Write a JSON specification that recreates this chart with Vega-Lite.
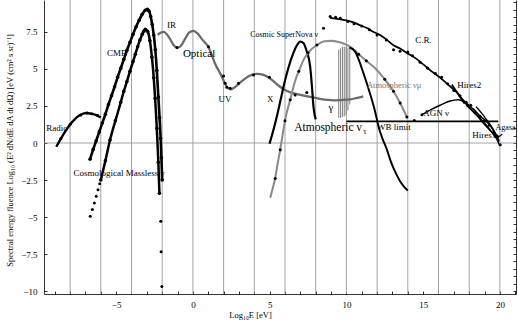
{
  "$schema": "https://vega.github.io/schema/vega-lite/v6.json",
  "width": 472,
  "height": 294,
  "autosize": "none",
  "padding": {"left": 44, "top": 0, "right": 2, "bottom": 27},
  "background": "white",
  "config": {
    "font": "Liberation Serif",
    "view": {"stroke": null},
    "axis": {"labelFont": "Liberation Serif", "titleFont": "Liberation Serif", "labelFontSize": 9, "titleFontSize": 8.5, "titleFontWeight": "normal", "domainColor": "#000", "tickColor": "#000", "labelColor": "#000", "titleColor": "#000", "grid": false, "domainWidth": 0.8, "tickWidth": 0.8, "labelOverlap": false, "labelFlush": false}
  },
  "datasets": {
    "grid": [{"g": -8}, {"g": -6}, {"g": -4}, {"g": -2}, {"g": 0}, {"g": 2}, {"g": 4}, {"g": 6}, {"g": 8}, {"g": 10}, {"g": 12}, {"g": 14}, {"g": 16}, {"g": 18}, {"g": 20}],
    "curves": [
      {"s": "CMB", "x": -6.7, "y": -1.1}, {"s": "CMB", "x": -6.5, "y": -0.45}, {"s": "CMB", "x": -6.3, "y": 0.15}, {"s": "CMB", "x": -6.1, "y": 0.75}, {"s": "CMB", "x": -5.9, "y": 1.35}, {"s": "CMB", "x": -5.7, "y": 1.95}, {"s": "CMB", "x": -5.5, "y": 2.6}, {"s": "CMB", "x": -5.3, "y": 3.2}, {"s": "CMB", "x": -5.1, "y": 3.8}, {"s": "CMB", "x": -4.9, "y": 4.45}, {"s": "CMB", "x": -4.7, "y": 5.05}, {"s": "CMB", "x": -4.5, "y": 5.65}, {"s": "CMB", "x": -4.3, "y": 6.25}, {"s": "CMB", "x": -4.1, "y": 6.8}, {"s": "CMB", "x": -3.9, "y": 7.35}, {"s": "CMB", "x": -3.7, "y": 7.85}, {"s": "CMB", "x": -3.5, "y": 8.3}, {"s": "CMB", "x": -3.3, "y": 8.7}, {"s": "CMB", "x": -3.1, "y": 8.97}, {"s": "CMB", "x": -2.96, "y": 9.03}, {"s": "CMB", "x": -2.85, "y": 8.9}, {"s": "CMB", "x": -2.75, "y": 8.55}, {"s": "CMB", "x": -2.65, "y": 8.0}, {"s": "CMB", "x": -2.55, "y": 7.3}, {"s": "CMB", "x": -2.45, "y": 6.3}, {"s": "CMB", "x": -2.35, "y": 4.9}, {"s": "CMB", "x": -2.25, "y": 3.1}, {"s": "CMB", "x": -2.17, "y": 1.7}, {"s": "CMB", "x": -2.1, "y": 0.3}, {"s": "CMB", "x": -2.05, "y": -1.0}, {"s": "CMB", "x": -2.0, "y": -2.5},
      {"s": "Massless", "x": -6.0, "y": -2.5}, {"s": "Massless", "x": -5.7, "y": -1.2}, {"s": "Massless", "x": -5.4, "y": 0.2}, {"s": "Massless", "x": -5.05, "y": 1.5}, {"s": "Massless", "x": -4.7, "y": 2.75}, {"s": "Massless", "x": -4.5, "y": 3.5}, {"s": "Massless", "x": -4.3, "y": 4.15}, {"s": "Massless", "x": -4.1, "y": 4.85}, {"s": "Massless", "x": -3.9, "y": 5.5}, {"s": "Massless", "x": -3.75, "y": 6.0}, {"s": "Massless", "x": -3.6, "y": 6.5}, {"s": "Massless", "x": -3.45, "y": 6.95}, {"s": "Massless", "x": -3.3, "y": 7.35}, {"s": "Massless", "x": -3.2, "y": 7.55}, {"s": "Massless", "x": -3.1, "y": 7.68}, {"s": "Massless", "x": -2.95, "y": 7.55}, {"s": "Massless", "x": -2.8, "y": 6.9}, {"s": "Massless", "x": -2.67, "y": 5.8}, {"s": "Massless", "x": -2.55, "y": 4.4}, {"s": "Massless", "x": -2.46, "y": 3.0}, {"s": "Massless", "x": -2.35, "y": 1.0}, {"s": "Massless", "x": -2.25, "y": -1.3}, {"s": "Massless", "x": -2.18, "y": -3.4},
      {"s": "Radio", "x": -8.9, "y": -0.25}, {"s": "Radio", "x": -8.6, "y": 0.3}, {"s": "Radio", "x": -8.3, "y": 0.8}, {"s": "Radio", "x": -8.0, "y": 1.25}, {"s": "Radio", "x": -7.7, "y": 1.6}, {"s": "Radio", "x": -7.4, "y": 1.85}, {"s": "Radio", "x": -7.1, "y": 2.0}, {"s": "Radio", "x": -6.9, "y": 2.03}, {"s": "Radio", "x": -6.6, "y": 1.97}, {"s": "Radio", "x": -6.3, "y": 1.88}, {"s": "Radio", "x": -6.0, "y": 1.72},
      {"s": "IR", "x": -2.3, "y": 7.3}, {"s": "IR", "x": -2.1, "y": 7.45}, {"s": "IR", "x": -1.9, "y": 7.5}, {"s": "IR", "x": -1.7, "y": 7.35}, {"s": "IR", "x": -1.5, "y": 7.05}, {"s": "IR", "x": -1.25, "y": 6.6}, {"s": "IR", "x": -1.0, "y": 6.42}, {"s": "IR", "x": -0.75, "y": 6.6}, {"s": "IR", "x": -0.5, "y": 7.05}, {"s": "IR", "x": -0.25, "y": 7.45}, {"s": "IR", "x": 0.04, "y": 7.57}, {"s": "IR", "x": 0.3, "y": 7.4}, {"s": "IR", "x": 0.6, "y": 7.0}, {"s": "IR", "x": 1.0, "y": 6.5}, {"s": "IR", "x": 1.25, "y": 5.9}, {"s": "IR", "x": 1.45, "y": 5.35}, {"s": "IR", "x": 1.7, "y": 4.85}, {"s": "IR", "x": 1.9, "y": 4.45}, {"s": "IR", "x": 2.1, "y": 4.0}, {"s": "IR", "x": 2.3, "y": 3.7}, {"s": "IR", "x": 2.45, "y": 3.63}, {"s": "IR", "x": 2.7, "y": 3.75}, {"s": "IR", "x": 3.1, "y": 4.1}, {"s": "IR", "x": 3.6, "y": 4.5}, {"s": "IR", "x": 4.2, "y": 4.67}, {"s": "IR", "x": 4.6, "y": 4.6}, {"s": "IR", "x": 5.0, "y": 4.38}, {"s": "IR", "x": 5.5, "y": 3.95}, {"s": "IR", "x": 5.9, "y": 3.64}, {"s": "IR", "x": 6.4, "y": 3.4}, {"s": "IR", "x": 6.8, "y": 3.3}, {"s": "IR", "x": 7.2, "y": 3.2}, {"s": "IR", "x": 7.64, "y": 3.12}, {"s": "IR", "x": 8.2, "y": 3.0}, {"s": "IR", "x": 8.73, "y": 2.92}, {"s": "IR", "x": 9.2, "y": 2.88}, {"s": "IR", "x": 9.6, "y": 2.9}, {"s": "IR", "x": 10.25, "y": 2.95}, {"s": "IR", "x": 10.7, "y": 3.05}, {"s": "IR", "x": 11.1, "y": 3.15},
      {"s": "SN", "x": 4.99, "y": -0.05}, {"s": "SN", "x": 5.2, "y": 0.7}, {"s": "SN", "x": 5.45, "y": 1.7}, {"s": "SN", "x": 5.69, "y": 2.8}, {"s": "SN", "x": 5.95, "y": 4.0}, {"s": "SN", "x": 6.23, "y": 5.1}, {"s": "SN", "x": 6.5, "y": 5.95}, {"s": "SN", "x": 6.75, "y": 6.55}, {"s": "SN", "x": 7.0, "y": 6.85}, {"s": "SN", "x": 7.2, "y": 6.75}, {"s": "SN", "x": 7.4, "y": 6.25}, {"s": "SN", "x": 7.64, "y": 5.16}, {"s": "SN", "x": 7.75, "y": 3.9}, {"s": "SN", "x": 7.86, "y": 2.4}, {"s": "SN", "x": 8.0, "y": 1.6},
      {"s": "numu", "x": 5.04, "y": -3.7}, {"s": "numu", "x": 5.2, "y": -3.05}, {"s": "numu", "x": 5.36, "y": -2.4}, {"s": "numu", "x": 5.52, "y": -1.4}, {"s": "numu", "x": 5.69, "y": -0.45}, {"s": "numu", "x": 5.9, "y": 0.9}, {"s": "numu", "x": 6.1, "y": 2.0}, {"s": "numu", "x": 6.34, "y": 2.92}, {"s": "numu", "x": 6.66, "y": 4.2}, {"s": "numu", "x": 7.0, "y": 5.1}, {"s": "numu", "x": 7.2, "y": 5.6}, {"s": "numu", "x": 7.6, "y": 6.2}, {"s": "numu", "x": 8.08, "y": 6.62}, {"s": "numu", "x": 8.6, "y": 6.88}, {"s": "numu", "x": 9.0, "y": 6.9}, {"s": "numu", "x": 9.5, "y": 6.82}, {"s": "numu", "x": 9.81, "y": 6.72}, {"s": "numu", "x": 10.25, "y": 6.5}, {"s": "numu", "x": 10.8, "y": 6.0}, {"s": "numu", "x": 11.3, "y": 5.55}, {"s": "numu", "x": 11.88, "y": 5.05}, {"s": "numu", "x": 12.5, "y": 4.3}, {"s": "numu", "x": 13.07, "y": 3.5}, {"s": "numu", "x": 13.5, "y": 2.7}, {"s": "numu", "x": 13.94, "y": 1.75},
      {"s": "WB", "x": 10.2, "y": 6.45}, {"s": "WB", "x": 10.57, "y": 6.17}, {"s": "WB", "x": 10.85, "y": 5.5}, {"s": "WB", "x": 11.11, "y": 4.72}, {"s": "WB", "x": 11.4, "y": 3.8}, {"s": "WB", "x": 11.66, "y": 2.92}, {"s": "WB", "x": 11.9, "y": 2.0}, {"s": "WB", "x": 12.09, "y": 1.12}, {"s": "WB", "x": 12.35, "y": 0.3}, {"s": "WB", "x": 12.64, "y": -0.45}, {"s": "WB", "x": 12.85, "y": -1.12}, {"s": "WB", "x": 13.07, "y": -1.7}, {"s": "WB", "x": 13.3, "y": -2.2}, {"s": "WB", "x": 13.5, "y": -2.59}, {"s": "WB", "x": 13.75, "y": -2.95}, {"s": "WB", "x": 14.0, "y": -3.21},
      {"s": "WBh", "x": 10.0, "y": 1.46}, {"s": "WBh", "x": 19.9, "y": 1.46},
      {"s": "CR", "x": 8.94, "y": 8.45}, {"s": "CR", "x": 9.3, "y": 8.4}, {"s": "CR", "x": 9.6, "y": 8.35}, {"s": "CR", "x": 10.0, "y": 8.28}, {"s": "CR", "x": 10.46, "y": 8.15}, {"s": "CR", "x": 10.9, "y": 7.95}, {"s": "CR", "x": 11.3, "y": 7.78}, {"s": "CR", "x": 11.77, "y": 7.5}, {"s": "CR", "x": 12.2, "y": 7.3}, {"s": "CR", "x": 12.6, "y": 7.0}, {"s": "CR", "x": 13.07, "y": 6.6}, {"s": "CR", "x": 13.5, "y": 6.38}, {"s": "CR", "x": 13.94, "y": 6.08}, {"s": "CR", "x": 14.4, "y": 5.8}, {"s": "CR", "x": 14.79, "y": 5.5}, {"s": "CR", "x": 15.2, "y": 5.15}, {"s": "CR", "x": 15.6, "y": 4.8}, {"s": "CR", "x": 16.1, "y": 4.42}, {"s": "CR", "x": 16.5, "y": 4.05}, {"s": "CR", "x": 16.9, "y": 3.7}, {"s": "CR", "x": 17.2, "y": 3.42}, {"s": "CR", "x": 17.52, "y": 3.0}, {"s": "CR", "x": 17.9, "y": 2.6}, {"s": "CR", "x": 18.28, "y": 2.28}, {"s": "CR", "x": 18.72, "y": 1.8}, {"s": "CR", "x": 19.15, "y": 1.45}, {"s": "CR", "x": 19.5, "y": 1.0}, {"s": "CR", "x": 19.8, "y": 0.4}, {"s": "CR", "x": 19.95, "y": 0.1},
      {"s": "Hires2", "x": 16.87, "y": 3.95}, {"s": "Hires2", "x": 17.7, "y": 2.65},
      {"s": "AGN", "x": 14.92, "y": 1.91}, {"s": "AGN", "x": 15.5, "y": 2.25}, {"s": "AGN", "x": 16.1, "y": 2.55}, {"s": "AGN", "x": 16.7, "y": 2.82}, {"s": "AGN", "x": 17.3, "y": 2.92}, {"s": "AGN", "x": 17.63, "y": 2.8}, {"s": "AGN", "x": 18.0, "y": 2.4}, {"s": "AGN", "x": 18.5, "y": 1.85}, {"s": "AGN", "x": 19.0, "y": 1.25}, {"s": "AGN", "x": 19.5, "y": 0.7}, {"s": "AGN", "x": 19.9, "y": 0.2},
      {"s": "Hires1", "x": 17.8, "y": 2.55}, {"s": "Hires1", "x": 18.4, "y": 2.0}, {"s": "Hires1", "x": 19.0, "y": 1.35}, {"s": "Hires1", "x": 19.5, "y": 0.7}, {"s": "Hires1", "x": 19.8, "y": 0.25}, {"s": "Hires1", "x": 19.95, "y": -0.1},
      {"s": "Agasa", "x": 18.45, "y": 2.45}, {"s": "Agasa", "x": 18.9, "y": 1.9}, {"s": "Agasa", "x": 19.4, "y": 1.2}, {"s": "Agasa", "x": 19.75, "y": 0.6}, {"s": "Agasa", "x": 19.95, "y": 0.45}, {"s": "Agasa", "x": 20.15, "y": 0.6}
    ],
    "spikes": [
      {"x": 9.5, "y": 1.7, "y2": 6.3}, {"x": 9.62, "y": 1.7, "y2": 6.4}, {"x": 9.74, "y": 1.75, "y2": 6.5}, {"x": 9.86, "y": 1.8, "y2": 6.5}, {"x": 9.98, "y": 1.9, "y2": 6.5}, {"x": 10.1, "y": 2.2, "y2": 6.45}, {"x": 10.22, "y": 2.6, "y2": 6.4}
    ],
    "dots": [
      {"g": "small", "x": -6.69, "y": -4.95}, {"g": "small", "x": -6.55, "y": -4.5}, {"g": "small", "x": -6.42, "y": -4.05}, {"g": "small", "x": -6.3, "y": -3.6}, {"g": "small", "x": -6.18, "y": -3.15}, {"g": "small", "x": -6.07, "y": -2.75},
      {"g": "small", "x": -2.09, "y": -5.28}, {"g": "small", "x": -2.07, "y": -7.35}, {"g": "small", "x": -2.02, "y": -9.7},
      {"g": "small", "x": -8.6, "y": 0.3}, {"g": "small", "x": -8.0, "y": 1.25}, {"g": "small", "x": -7.3, "y": 1.9}, {"g": "small", "x": -6.9, "y": 2.03}, {"g": "small", "x": -6.6, "y": 1.97}, {"g": "small", "x": -6.2, "y": 1.85},
      {"g": "small", "x": 8.51, "y": 7.75}, {"g": "small", "x": 8.94, "y": 8.55}, {"g": "small", "x": 9.3, "y": 8.5}, {"g": "small", "x": 9.6, "y": 8.42}, {"g": "small", "x": 10.1, "y": 8.2}, {"g": "small", "x": 10.5, "y": 8.05}, {"g": "small", "x": 11.0, "y": 7.9}, {"g": "small", "x": 11.5, "y": 7.65}, {"g": "small", "x": 12.0, "y": 7.3}, {"g": "small", "x": 12.6, "y": 6.95}, {"g": "small", "x": 13.07, "y": 6.3}, {"g": "small", "x": 13.5, "y": 6.2}, {"g": "small", "x": 14.0, "y": 6.15}, {"g": "small", "x": 14.3, "y": 5.9}, {"g": "small", "x": 14.8, "y": 5.45}, {"g": "small", "x": 15.3, "y": 5.05}, {"g": "small", "x": 15.8, "y": 4.7}, {"g": "small", "x": 16.2, "y": 4.45}, {"g": "small", "x": 16.6, "y": 4.0}, {"g": "small", "x": 17.0, "y": 3.55}, {"g": "small", "x": 17.4, "y": 3.2}, {"g": "small", "x": 17.8, "y": 2.75}, {"g": "small", "x": 18.1, "y": 2.55}, {"g": "small", "x": 18.4, "y": 2.05}, {"g": "small", "x": 18.7, "y": 1.8}, {"g": "small", "x": 19.0, "y": 1.5}, {"g": "small", "x": 19.3, "y": 1.2}, {"g": "small", "x": 19.6, "y": 0.75}, {"g": "small", "x": 19.85, "y": 0.4}, {"g": "small", "x": 20.02, "y": -0.11}, {"g": "small", "x": 14.92, "y": 1.91}, {"g": "small", "x": 14.42, "y": 1.52},
      {"g": "grey", "x": -1.04, "y": 6.45}, {"g": "grey", "x": 1.02, "y": 6.51}, {"g": "grey", "x": 2.0, "y": 4.53}, {"g": "grey", "x": 2.1, "y": 4.04}, {"g": "grey", "x": 2.21, "y": 3.77}, {"g": "grey", "x": 2.43, "y": 3.7}, {"g": "grey", "x": 2.97, "y": 4.04}, {"g": "grey", "x": 3.95, "y": 4.6}, {"g": "grey", "x": 4.99, "y": 4.45}, {"g": "grey", "x": 6.66, "y": 3.25}, {"g": "grey", "x": 7.42, "y": 3.41},
      {"g": "lgrey", "x": 5.36, "y": -2.4}, {"g": "lgrey", "x": 5.69, "y": -0.45}, {"g": "lgrey", "x": 6.0, "y": 1.5}, {"g": "lgrey", "x": 6.34, "y": 2.92}, {"g": "lgrey", "x": 6.9, "y": 4.85}, {"g": "lgrey", "x": 7.5, "y": 6.1}, {"g": "lgrey", "x": 8.08, "y": 6.62}, {"g": "lgrey", "x": 10.8, "y": 6.0}, {"g": "lgrey", "x": 11.3, "y": 5.55}, {"g": "lgrey", "x": 12.5, "y": 4.3}, {"g": "lgrey", "x": 13.07, "y": 3.5}, {"g": "lgrey", "x": 13.5, "y": 2.7}, {"g": "lgrey", "x": 13.94, "y": 1.75}
    ],
    "labels": [
      {"t": "Radio", "x": -9.56, "y": 1.01}, {"t": "CMB", "x": -5.6, "y": 6.06}, {"t": "IR", "x": -1.69, "y": 7.97}, {"t": "Optical", "x": -0.65, "y": 6.02}, {"t": "UV", "x": 1.67, "y": 2.99}, {"t": "X", "x": 4.82, "y": 2.99}, {"t": "Cosmic SuperNova ν", "x": 3.73, "y": 7.3}, {"t": "γ", "x": 8.83, "y": 2.36}, {"t": "Atmospheric ν", "x": 6.6, "y": 1.0}, {"t": "τ", "x": 11.1, "y": 0.75}, {"t": "C.R.", "x": 14.48, "y": 6.96}, {"t": "Atmospheric  νμ", "x": 11.34, "y": 3.93}, {"t": "WB limit", "x": 11.99, "y": 1.05}, {"t": "Hires2", "x": 17.23, "y": 3.93}, {"t": "AGN ν", "x": 15.0, "y": 2.04}, {"t": "Hires1", "x": 18.2, "y": 0.56}, {"t": "Agasa", "x": 19.72, "y": 1.03}, {"t": "Cosmological  Massless ν", "x": -7.78, "y": -2.02}
    ]
  },
  "resolve": {"axis": {"y": "independent", "x": "independent"}},
  "layer": [
    {
      "data": {"name": "grid"},
      "mark": {"type": "rule", "color": "#9a9a9a", "strokeWidth": 0.9},
      "encoding": {
        "x": {"field": "g", "type": "quantitative", "scale": {"domain": [-9.7, 21.05], "nice": false, "zero": false},
          "axis": {"orient": "bottom", "values": [-5, 0, 5, 10, 15, 20],
            "labelExpr": "datum.value < 0 ? '−' + (-datum.value) : '' + datum.value",
            "labelOverlap": false, "labelFlush": false,
            "tickSize": -3, "labelPadding": 9, "title": "Log₁₀E [eV]", "titleX": 206, "titleY": 20, "titleBaseline": "middle", "titleAnchor": null}}
      }
    },
    {
      "data": {"values": [{"z": 0}]},
      "mark": {"type": "rule", "color": "#9a9a9a", "strokeWidth": 0.9},
      "encoding": {
        "y": {"field": "z", "type": "quantitative", "scale": {"domain": [-10.2, 9.66], "nice": false, "zero": false},
          "axis": {"orient": "right", "values": [-10, -9.5, -9, -8.5, -8, -7.5, -7, -6.5, -6, -5.5, -5, -4.5, -4, -3.5, -3, -2.5, -2, -1.5, -1, -0.5, 0, 0.5, 1, 1.5, 2, 2.5, 3, 3.5, 4, 4.5, 5, 5.5, 6, 6.5, 7, 7.5, 8, 8.5, 9, 9.5], "labels": false, "tickSize": -3, "title": null}}
      }
    },
    {
      "data": {"name": "spikes"},
      "mark": {"type": "rule", "color": "#808080", "strokeWidth": 1},
      "encoding": {
        "x": {"field": "x", "type": "quantitative",
          "axis": {"orient": "bottom", "values": [-9, -8, -7, -6, -4, -3, -2, -1, 1, 2, 3, 4, 6, 7, 8, 9, 11, 12, 13, 14, 16, 17, 18, 19, 21], "labels": false, "domain": false, "tickSize": -3, "title": null}},
        "y": {"field": "y", "type": "quantitative", "axis": null},
        "y2": {"field": "y2"}
      }
    },
    {
      "data": {"name": "curves"},
      "mark": {"type": "line", "interpolate": "monotone"},
      "encoding": {
        "x": {"field": "x", "type": "quantitative", "axis": null},
        "y": {"field": "y", "type": "quantitative", "scale": {"domain": [-10.2, 9.66], "nice": false, "zero": false},
          "axis": {"orient": "left", "values": [-10, -7.5, -5, -2.5, 0, 2.5, 5, 7.5],
            "labelExpr": "datum.value < 0 ? '−' + format(-datum.value, '') : format(datum.value, '')",
            "tickSize": -3, "labelPadding": 10,
            "title": "Spectral energy fluence Log₁₀ (E² dN/dE dA dt dΩ) [eV (cm² s sr)⁻¹]",
            "titleX": -35, "titleY": 150, "titleAngle": -90, "titleAlign": "center", "titleBaseline": "middle", "titleAnchor": null}},
        "detail": {"field": "s"},
        "color": {"field": "s", "type": "nominal", "legend": null,
          "scale": {"domain": ["CMB", "Massless", "Radio", "IR", "SN", "numu", "WB", "WBh", "CR", "Hires2", "AGN", "Hires1", "Agasa"],
            "range": ["#000000", "#000000", "#000000", "#6a6a6a", "#000000", "#8c8c8c", "#000000", "#000000", "#000000", "#000000", "#000000", "#000000", "#000000"]}},
        "strokeWidth": {"field": "s", "type": "nominal", "legend": null,
          "scale": {"domain": ["CMB", "Massless", "Radio", "IR", "SN", "numu", "WB", "WBh", "CR", "Hires2", "AGN", "Hires1", "Agasa"],
            "range": [2.6, 1.3, 1.2, 2.6, 1.7, 1.6, 1.4, 0.8, 2.4, 1.2, 1.3, 1.2, 1.2]}}
      }
    },
    {
      "data": {"name": "curves"},
      "transform": [{"filter": "datum.s === 'CMB' || datum.s === 'Massless'"}],
      "mark": {"type": "circle", "color": "#000", "opacity": 1, "size": 13},
      "encoding": {
        "x": {"field": "x", "type": "quantitative", "axis": null},
        "y": {"field": "y", "type": "quantitative", "axis": null}
      }
    },
    {
      "data": {"name": "dots"},
      "mark": {"type": "circle", "opacity": 1},
      "encoding": {
        "x": {"field": "x", "type": "quantitative", "axis": null},
        "y": {"field": "y", "type": "quantitative", "axis": null},
        "color": {"field": "g", "type": "nominal", "legend": null, "scale": {"domain": ["small", "grey", "lgrey"], "range": ["#000000", "#555555", "#999999"]}},
        "size": {"field": "g", "type": "nominal", "legend": null, "scale": {"domain": ["small", "grey", "lgrey"], "range": [9, 9, 6]}}
      }
    },
    {
      "data": {"name": "labels"},
      "transform": [{"filter": "indexof(['Optical', 'Atmospheric ν', 'γ', 'Atmospheric  νμ', 'Cosmic SuperNova ν', 'τ', 'Agasa'], datum.t) < 0"}],
      "mark": {"type": "text", "align": "left", "baseline": "middle", "fontSize": 9, "font": "Liberation Serif", "color": "#000"},
      "encoding": {
        "x": {"field": "x", "type": "quantitative", "axis": null},
        "y": {"field": "y", "type": "quantitative", "axis": null},
        "text": {"field": "t"}
      }
    },
    {
      "data": {"name": "labels"},
      "transform": [{"filter": "datum.t === 'Optical' || datum.t === 'γ'"}],
      "mark": {"type": "text", "align": "left", "baseline": "middle", "fontSize": 11, "font": "Liberation Serif", "color": "#000"},
      "encoding": {
        "x": {"field": "x", "type": "quantitative", "axis": null},
        "y": {"field": "y", "type": "quantitative", "axis": null},
        "text": {"field": "t"}
      }
    },
    {
      "data": {"name": "labels"},
      "transform": [{"filter": "datum.t === 'Cosmic SuperNova ν' || datum.t === 'Agasa'"}],
      "mark": {"type": "text", "align": "left", "baseline": "middle", "fontSize": 8, "font": "Liberation Serif", "color": "#000"},
      "encoding": {
        "x": {"field": "x", "type": "quantitative", "axis": null},
        "y": {"field": "y", "type": "quantitative", "axis": null},
        "text": {"field": "t"}
      }
    },
    {
      "data": {"name": "labels"},
      "transform": [{"filter": "datum.t === 'Atmospheric  νμ'"}],
      "mark": {"type": "text", "align": "left", "baseline": "middle", "fontSize": 8.5, "font": "Liberation Serif", "color": "#777777"},
      "encoding": {
        "x": {"field": "x", "type": "quantitative", "axis": null},
        "y": {"field": "y", "type": "quantitative", "axis": null},
        "text": {"field": "t"}
      }
    },
    {
      "data": {"name": "labels"},
      "transform": [{"filter": "datum.t === 'Atmospheric ν'"}],
      "mark": {"type": "text", "align": "left", "baseline": "middle", "fontSize": 11.5, "font": "Liberation Serif", "color": "#000"},
      "encoding": {
        "x": {"field": "x", "type": "quantitative", "axis": null},
        "y": {"field": "y", "type": "quantitative", "axis": null},
        "text": {"field": "t"}
      }
    },
    {
      "data": {"name": "labels"},
      "transform": [{"filter": "datum.t === 'τ'"}],
      "mark": {"type": "text", "align": "left", "baseline": "middle", "fontSize": 8, "font": "Liberation Serif", "color": "#000"},
      "encoding": {
        "x": {"field": "x", "type": "quantitative", "axis": null},
        "y": {"field": "y", "type": "quantitative", "axis": null},
        "text": {"field": "t"}
      }
    }
  ]
}
